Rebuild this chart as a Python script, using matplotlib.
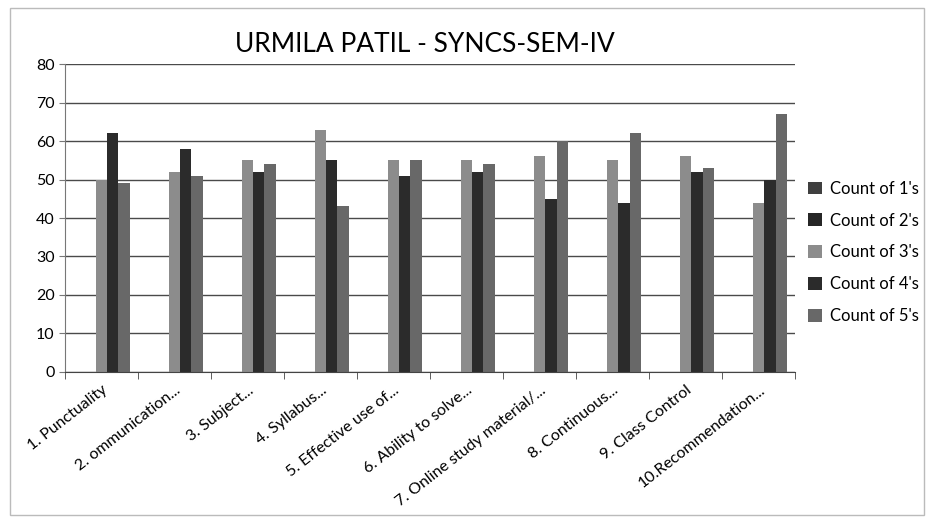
import matplotlib.pyplot as plt
import numpy as np
from matplotlib.patches import Rectangle

plt.rcParams["font.family"] = ["Lato", "DejaVu Sans"]

categories = [
    "1. Punctuality", "2. ommunication...", "3. Subject...", "4. Syllabus...",
    "5. Effective use of...", "6. Ability to solve...",
    "7. Online study material/...", "8. Continuous...", "9. Class Control",
    "10.Recommendation...",
]
series_names = ["Count of 1's", "Count of 2's", "Count of 3's",
                "Count of 4's", "Count of 5's"]
count_1 = [0, 0, 0, 0, 0, 0, 0, 0, 0, 0]
count_2 = [0, 0, 0, 0, 0, 0, 0, 0, 0, 0]
count_3 = [50, 52, 55, 63, 55, 55, 56, 55, 56, 44]
count_4 = [62, 58, 52, 55, 51, 52, 45, 44, 52, 50]
count_5 = [49, 51, 54, 43, 55, 54, 60, 62, 53, 67]
yticks = [0, 10, 20, 30, 40, 50, 60, 70, 80]

colors = ["#3f3f3f", "#262626", "#8c8c8c", "#2b2b2b", "#686868"]

fig = plt.figure(figsize=(9.28, 5.26), dpi=100)
ax = fig.add_axes([0.070, 0.293, 0.787, 0.585])

x = np.arange(len(categories))
width = 1.0 / 6.5
for i, (vals, col, name) in enumerate(zip(
        [count_1, count_2, count_3, count_4, count_5], colors, series_names)):
    ax.bar(x + (i - 2) * width, vals, width=width, color=col, label=name,
           linewidth=0)

ax.set_xlim(-0.5, len(categories) - 0.5)
ax.set_ylim(0, 80)
ax.set_yticks(yticks)
ax.grid(True, axis="y", color="#4a4a4a", linewidth=1.0)
ax.set_axisbelow(True)
for s in ["top", "right"]:
    ax.spines[s].set_visible(False)
ax.spines["left"].set_color("#777777")
ax.spines["bottom"].set_color("#444444")

ax.set_xticks(x)
ax.set_xticklabels(categories, rotation=38, ha="right", rotation_mode="anchor",
                   fontsize=11.5)
ax.set_xticks(np.arange(len(categories) + 1) - 0.5, minor=True)
ax.tick_params(axis="x", which="major", length=0, pad=8)
ax.tick_params(axis="x", which="minor", length=5, color="#444444")
ax.tick_params(axis="y", labelsize=11.5, length=4, color="#777777")

handles, labels = ax.get_legend_handles_labels()
fig.legend(handles, labels, loc="center left", bbox_to_anchor=(0.855, 0.52),
           frameon=False, fontsize=12, handlelength=0.8, handleheight=0.8,
           labelspacing=0.95, handletextpad=0.5)

fig.text(0.458, 0.915, "URMILA PATIL - SYNCS-SEM-IV", ha="center",
         va="center", fontsize=19)

fig.patches.append(Rectangle((0.011, 0.02), 0.985, 0.965,
                             transform=fig.transFigure, fill=False,
                             edgecolor="#bbbbbb", linewidth=1.0))

fig.savefig("out.png", dpi=100)
